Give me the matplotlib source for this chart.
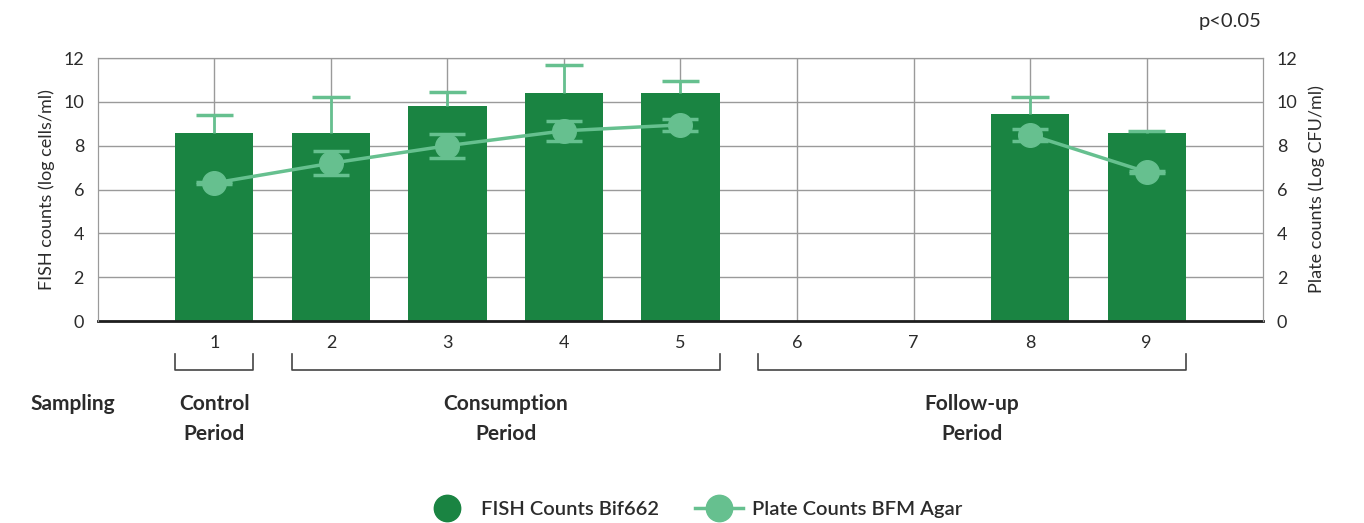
import numpy as np
import matplotlib.pyplot as plt
from matplotlib.lines import Line2D

plt.rcParams['font.family'] = ['Lato', 'DejaVu Sans']

samples = [1, 2, 3, 4, 5, 6, 7, 8, 9]
fish = [8.6, 8.6, 9.8, 10.4, 10.4, np.nan, np.nan, 9.45, 8.6]
fish_err = [0.8, 1.6, 0.65, 1.3, 0.55, np.nan, np.nan, 0.75, 0.08]
plate = [6.3, 7.2, 8.0, 8.68, 8.95, np.nan, np.nan, 8.5, 6.8]
plate_err = [0.03, 0.55, 0.55, 0.45, 0.27, np.nan, np.nan, 0.27, 0.03]

periods = ["Control\nPeriod", "Consumption\nPeriod", "Follow-up\nPeriod"]
period_span = [(1, 1), (2, 5), (6, 9)]

dark = '#1a8442'
light = '#66c08f'
grid_c = '#9a9a9a'
txt = '#2b2b2b'

fig = plt.figure(figsize=(13.64, 5.23), dpi=100)
ax = fig.add_axes([0.0718, 0.3862, 0.8542, 0.5028])
ax2 = ax.twinx()

bw = 0.67
x = np.array(samples)
fish_a = np.array(fish)
top = fish_a + np.array(fish_err)
ax.bar(x, np.nan_to_num(fish_a), width=bw, color=dark, zorder=2)
# upper-only whiskers on the bars
ax.vlines(x, fish_a, top, color=light, lw=2, zorder=3)
ax.hlines(top, x - 0.16, x + 0.16, color=light, lw=2.5, zorder=3)

ax2.errorbar(x, plate, yerr=plate_err, color=light, lw=2.5, marker='o', markersize=17,
             ecolor=light, elinewidth=2, capsize=13, capthick=2.5, zorder=4)

for a in (ax, ax2):
    a.set_xlim(0, 10)
    a.set_ylim(0, 12)
    a.set_yticks(range(0, 13, 2))
    a.tick_params(length=0, labelsize=13, colors=txt, pad=10)

ax.set_xticks(samples)
ax.grid(True, color=grid_c, lw=1, zorder=0)
ax.set_axisbelow(True)
for s in ['top', 'right', 'left']:
    ax.spines[s].set_color(grid_c)
    ax2.spines[s].set_color(grid_c)
ax.spines['bottom'].set_color('#1e1e1e')
ax.spines['bottom'].set_linewidth(2)
ax2.spines['bottom'].set_visible(False)

ax.set_ylabel('FISH counts (log cells/ml)', fontsize=13, color=txt, labelpad=6)
ax2.set_ylabel('Plate counts (Log CFU/ml)', fontsize=13, color=txt, labelpad=8)

tr = ax.get_xaxis_transform()
for label, (a0, a1) in zip(periods, period_span):
    xl = a0 - bw / 2
    xr = a1 + bw / 2
    ax.plot([xl, xl, xr, xr], [-0.125, -0.185, -0.185, -0.125], color='#444444',
            lw=1.2, transform=tr, clip_on=False)
    ax.text((a0 + a1) / 2, -0.372, label, transform=tr, ha='center', va='center',
            fontsize=15, fontweight='bold', color=txt, linespacing=1.6)
ax.text(-0.58, -0.316, 'Sampling', transform=tr, ha='left', va='center',
        fontsize=15, fontweight='bold', color=txt)

fig.text(0.925, 0.958, 'p<0.05', ha='right', va='center', fontsize=14.5, color=txt)

handles = [Line2D([], [], color=dark, marker='o', markersize=19, lw=0),
           Line2D([], [], color=light, marker='o', markersize=19, lw=2.5)]
fig.legend(handles, ['FISH Counts Bif662', 'Plate Counts BFM Agar'], loc='center',
           bbox_to_anchor=(0.508, 0.025), ncol=2, frameon=False, fontsize=14.5,
           handlelength=2.4, columnspacing=1.8, handletextpad=0.45)
for t in fig.legends[0].get_texts():
    t.set_color(txt)
    t.set_fontweight('semibold')

fig.savefig('out.png', dpi=100)
